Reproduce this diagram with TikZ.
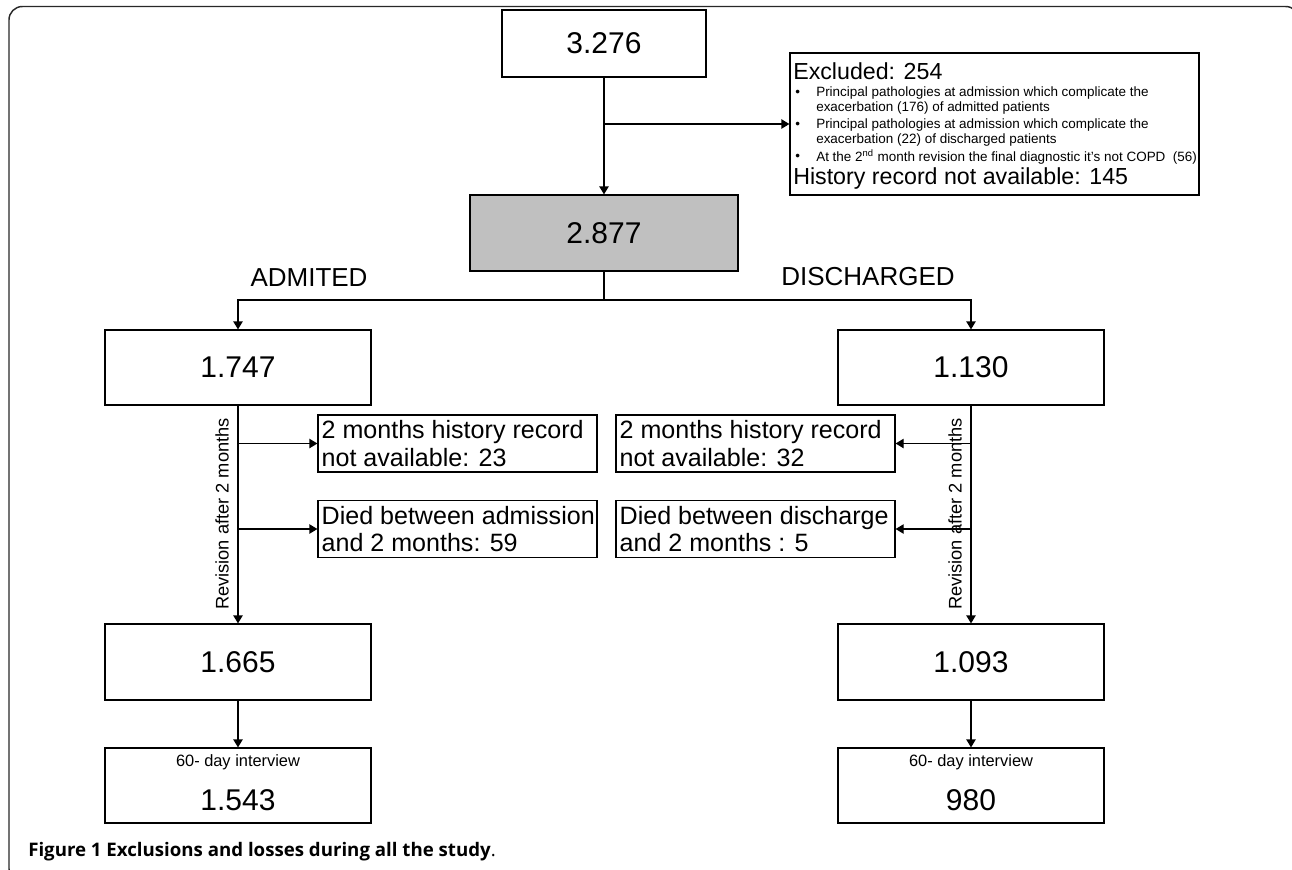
\documentclass[tikz,border=0pt]{standalone}
\usepackage{fontspec}
\setmainfont{Liberation Sans}
\newfontfamily\capfont{Open Sans}
\usetikzlibrary{arrows.meta}
\definecolor{boxgray}{RGB}{192,192,192}
\definecolor{framecol}{RGB}{40,40,40}
\begin{document}
\begin{tikzpicture}[x=0.75pt,y=-0.75pt,
  box/.style={draw, line width=0.9pt, inner sep=0pt},
  arr/.style={-{Triangle[length=6pt,width=7pt]}, line width=0.9pt},
  plain/.style={line width=0.9pt},
  num/.style={font=\fontsize{22.5}{26}\selectfont},
  mid/.style={font=\fontsize{18.8}{21}\selectfont},
  exbig/.style={font=\fontsize{17.4}{20}\selectfont, inner sep=0pt, anchor=west},
  exsmall/.style={font=\fontsize{10.1}{11.25}\selectfont, inner sep=0pt, anchor=west, align=left},
  sidebox/.style={box, minimum width=209.25pt, minimum height=42.75pt},
  sidetext/.style={mid, inner sep=0pt, anchor=west, align=left, font=\fontsize{18.8}{20.6}\selectfont},
  bigbox/.style={box, num, minimum width=199.5pt, minimum height=56.25pt}
]
\useasboundingbox (0,0) rectangle (1292,869);
\begin{scope}
\clip (0,0) rectangle (1292,869);
\draw[line width=1.1pt, framecol, rounded corners=10pt] (9,6.5) rectangle (1299,882);
\end{scope}

% top boxes
\node[box, num, minimum width=153pt, minimum height=50.25pt] (A) at (604,43.5) {3.276};
\node[box, minimum width=306.75pt, minimum height=106.5pt] (excl) at (994.5,124) {};
\node[exbig] (exT) at (793,71) {Excluded: 254};
\node[exsmall] (bu1) at (795,93) {\textbullet};
\node[exsmall] (bt1) at (816,100.5) {Principal pathologies at admission which complicate the\\exacerbation (176) of admitted patients};
\node[exsmall] (bu2) at (795,125) {\textbullet};
\node[exsmall] (bt2) at (816,132.5) {Principal pathologies at admission which complicate the\\exacerbation (22) of discharged patients};
\node[exsmall] (bu3) at (795,157) {\textbullet};
\node[exsmall] (bt3) at (816,157) {At the 2\textsuperscript{nd} month revision the final diagnostic it's not COPD\ \ (56)};
\node[exbig] (hist) at (793,178) {History record not available: 145};

\node[box, num, fill=boxgray, minimum width=201pt, minimum height=57pt] (B) at (604,233) {2.877};

\coordinate (brA) at (604,124);
\draw[arr] (A.south) -- (B.north);
\draw[arr] (brA) -- (excl.west);

% labels
\node[font=\fontsize{19.5}{22}\selectfont] (adm) at (309,278) {ADMITED};
\node[font=\fontsize{19.5}{22}\selectfont] (dis) at (868,277) {DISCHARGED};

% second level
\node[bigbox] (L1) at (238,367.5) {1.747};
\node[bigbox] (R1) at (971,367.5) {1.130};
\coordinate (split) at (604,300);
\draw[plain] (B.south) -- (split);
\draw[arr] (split) -| (L1.north);
\draw[arr] (split) -| (R1.north);

% side boxes
\node[sidebox] (LS1) at (457.5,443.5) {};
\node[sidebox] (LS2) at (457.5,529) {};
\node[sidebox] (RS1) at (755.5,443.5) {};
\node[sidebox] (RS2) at (755.5,529) {};
\node[sidetext] (LS1t) at ([xshift=3pt]LS1.west) {2 months history record\\not available: 23};
\node[sidetext] (LS2t) at ([xshift=3pt]LS2.west) {Died between admission\\and 2 months: 59};
\node[sidetext] (RS1t) at ([xshift=3pt]RS1.west) {2 months history record\\not available: 32};
\node[sidetext] (RS2t) at ([xshift=3pt]RS2.west) {Died between discharge\\and 2 months : 5};

% third level
\node[bigbox, minimum height=57pt] (L2) at (238,662) {1.665};
\node[bigbox, minimum height=57pt] (R2) at (971,662) {1.093};
\draw[arr] (L1.south) -- (L2.north);
\draw[arr] (R1.south) -- (R2.north);
\draw[arr] (L1.south |- LS1.west) -- (LS1.west);
\draw[arr] (L1.south |- LS2.west) -- (LS2.west);
\draw[arr] (R1.south |- RS1.east) -- (RS1.east);
\draw[arr] (R1.south |- RS2.east) -- (RS2.east);
\node[rotate=90, font=\fontsize{13.7}{16}\selectfont] (revL) at (222,514) {Revision after 2 months};
\node[rotate=90, font=\fontsize{13.7}{16}\selectfont] (revR) at (955,514) {Revision after 2 months};

% bottom level
\node[bigbox] (L3) at (238,785.5) {};
\node[bigbox] (R3) at (971,785.5) {};
\node[font=\fontsize{12.3}{14}\selectfont, inner sep=0pt] (L3t) at (238,762) {60- day interview};
\node[num, inner sep=0pt] (L3n) at (238,800) {1.543};
\node[font=\fontsize{12.3}{14}\selectfont, inner sep=0pt] (R3t) at (971,762) {60- day interview};
\node[num, inner sep=0pt] (R3n) at (971,800) {980};
\draw[arr] (L2.south) -- (L3.north);
\draw[arr] (R2.south) -- (R3.north);

% caption
\node[anchor=west, inner sep=0pt, font=\capfont\fontsize{14}{16}\selectfont] (cap) at (28,852) {\textbf{Figure 1 Exclusions and losses during all the study}.};
\end{tikzpicture}
\end{document}
